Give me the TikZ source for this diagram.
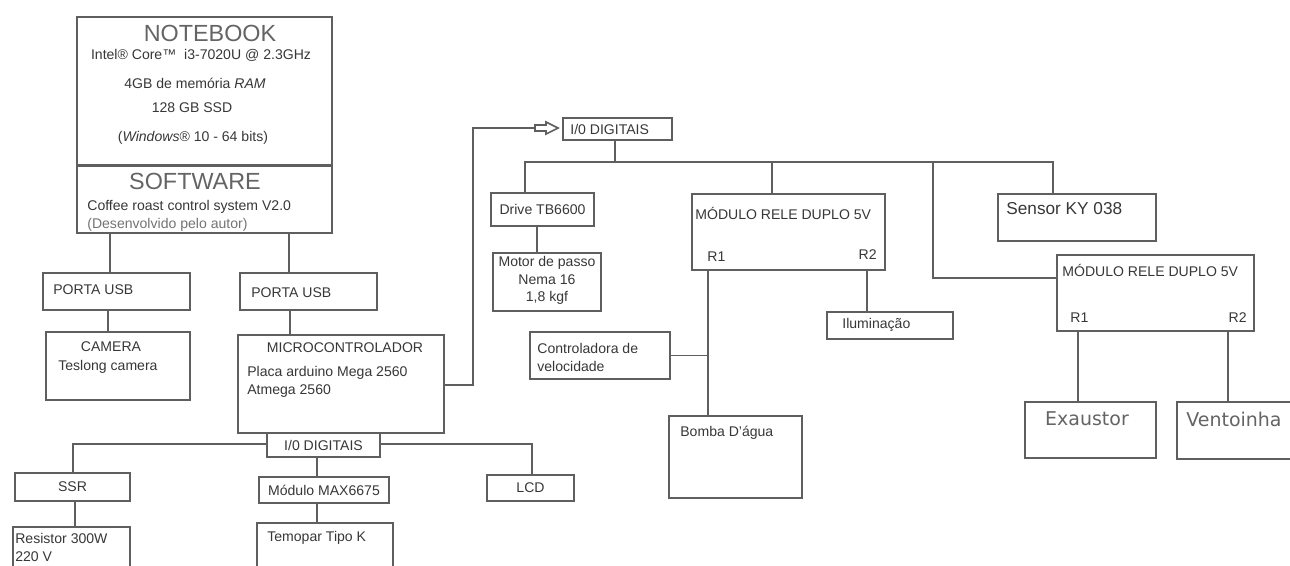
\documentclass[tikz,border=0pt]{standalone}
\usepackage{fontspec}
\setmainfont{Liberation Sans}
\newfontfamily\verdana{DejaVu Sans}
\usetikzlibrary{fit}
\definecolor{linegray}{RGB}{95,95,95}
\definecolor{textgray}{RGB}{55,55,55}
\definecolor{headgray}{RGB}{100,100,100}
\tikzset{
  box/.style={draw=linegray, line width=0.9pt, inner sep=0pt},
  wire/.style={draw=linegray, line width=0.9pt},
  txt/.style={text=textgray, inner sep=0pt, font=\fontsize{8}{9.6}\selectfont},
  lbl/.style={txt, anchor=west},
  head/.style={text=headgray, inner sep=0pt, font=\fontsize{13.3}{15}\selectfont},
  big/.style={text=headgray, inner sep=0pt, font=\verdana\fontsize{10.8}{12}\selectfont},
}
\begin{document}
\begin{tikzpicture}[x=0.02cm, y=-0.02cm]
  \useasboundingbox (0,0) rectangle (1290,565);
  \clip (0,0) rectangle (1290,565);

  % notebook and software
  \node[box, fit={(77,17) (332,165)}] (nb) {};
  \node[box, fit={(77,165) (332,233)}] (sw) {};
  \draw[wire, line width=1.5pt] (nb.south west) -- (nb.south east);
  \node[head] (nbH) at (210,33) {NOTEBOOK};
  \node[txt] (nb1) at (201,55) {Intel® Core™\ \ i3-7020U @ 2.3GHz};
  \node[txt] (nb2) at (195,83) {4GB de memória \textit{RAM}};
  \node[txt] (nb3) at (192,108) {128 GB SSD};
  \node[txt] (nb4) at (193,138) {(\textit{Windows}® 10 - 64 bits)};
  \node[head] (swH) at (195,181) {SOFTWARE};
  \node[lbl] (sw1) at (87,207) {Coffee roast control system V2.0};
  \node[lbl, text=textgray!70] (sw2) at (87,225) {(Desenvolvido pelo autor)};

  % left column
  \node[box, fit={(43,273) (190,310)}] (usbL) {};
  \node[lbl] (usbLt) at (53,290) {PORTA USB};
  \node[box, fit={(240,273) (377,310)}] (usbR) {};
  \node[lbl] (usbRt) at (251,293) {PORTA USB};
  \node[box, fit={(46,332) (190,400)}] (cam) {};
  \node[txt] (cam1) at (111,347) {CAMERA};
  \node[lbl] (cam2) at (58,367) {Teslong camera};
  \node[box, fit={(238,335) (444,433)}] (mcu) {};
  \node[txt] (mcu1) at (345,348) {MICROCONTROLADOR};
  \node[lbl] (mcu2) at (247,373) {Placa arduino Mega 2560};
  \node[lbl] (mcu3) at (247,391) {Atmega 2560};
  \node[box, fill=white, fit={(267,433) (380,457)}] (ioB) {};
  \node[txt] (ioBt) at (ioB.center) {I/0 DIGITAIS};
  \node[box, fit={(15,473) (130,501)}] (ssr) {};
  \node[txt] (ssrt) at (ssr.center) {SSR};
  \node[box, fit={(13,527) (130,590)}] (res) {};
  \node[lbl] (res1) at (15,538) {Resistor 300W};
  \node[lbl] (res2) at (15,557) {220 V};
  \node[box, fit={(259,477) (389,503)}] (max) {};
  \node[txt] (maxt) at (max.center) {Módulo MAX6675};
  \node[box, fit={(257,523) (393,590)}] (term) {};
  \node[lbl] (term1) at (267,538) {Temopar Tipo K};
  \node[box, fit={(487,475) (574,501)}] (lcd) {};
  \node[txt] (lcdt) at (lcd.center) {LCD};

  % right part
  \node[box, fit={(563,118) (672,140)}] (ioT) {};
  \node[lbl] (ioTt) at (570,129) {I/0 DIGITAIS};
  \node[box, fit={(491,193) (594,226)}] (drive) {};
  \node[txt] (drivet) at (drive.center) {Drive TB6600};
  \node[box, fit={(493,253) (601,311)}] (motor) {};
  \node[txt, align=center, font=\fontsize{8}{9.8}\selectfont] (motort)
    at ([yshift=0.03cm]motor.center) {Motor de passo\\Nema 16\\1,8 kgf};
  \node[box, fit={(692,194) (885,270)}] (rel1) {};
  \node[lbl] (rel1t) at (695,213) {MÓDULO RELE DUPLO 5V};
  \node[lbl] (rel1a) at (707,257) {R1};
  \node[txt, anchor=east] (rel1b) at (877,255) {R2};
  \node[box, fit={(827,312) (953,339)}] (ilum) {};
  \node[lbl] (ilumt) at (842,325) {Iluminação};
  \node[box, fit={(530,332) (670,379)}] (ctrl) {};
  \node[lbl] (ctrl1) at (537,348) {Controladora de};
  \node[lbl] (ctrl2) at (537,366) {velocidade};
  \node[box, fit={(669,416) (802,498)}] (bomba) {};
  \node[lbl] (bombat) at (680,433) {Bomba D'água};
  \node[box, fit={(998,194) (1156,241)}] (sensor) {};
  \node[lbl, font=\fontsize{9.8}{11}\selectfont] (sensort) at (1006,209) {Sensor KY 038};
  \node[box, fit={(1057,255) (1254,331)}] (rel2) {};
  \node[lbl] (rel2t) at (1062,270) {MÓDULO RELE DUPLO 5V};
  \node[lbl] (rel2a) at (1070,318) {R1};
  \node[txt, anchor=east] (rel2b) at (1247,318) {R2};
  \node[box, fit={(1025,402) (1156,458)}] (exa) {};
  \node[big] (exat) at (1087,419) {Exaustor};
  \node[box, fit={(1177,402) (1320,459)}] (vent) {};
  \node[big, anchor=west] (ventt) at (1186,419) {Ventoinha};

  % connectors
  \draw[wire] (sw.south -| 110,0) -- (usbL.north -| 110,0);
  \draw[wire] (sw.south -| 289,0) -- (usbR.north -| 289,0);
  \draw[wire] (usbL.south -| 108,0) -- (cam.north -| 108,0);
  \draw[wire] (usbR.south -| 290,0) -- (mcu.north -| 290,0);
  \coordinate (tail) at (535,128);
  \draw[wire] (mcu.east |- 0,385) -- (473,385) |- (tail);
  \draw[wire, fill=white] (tail) ++(0,-3) -- ++(11,0) -- ++(0,-3) -- ++(12,6)
    -- ++(-12,6) -- ++(0,-3) -- ++(-11,0) -- cycle;
  \coordinate (busL) at (525,162);
  \coordinate (busR) at (1053,162);
  \draw[wire] (drive.north -| busL) -- (busL) -- (busR) -- (sensor.north -| busR);
  \draw[wire] (ioT.south -| 615,0) -- (615,162);
  \draw[wire] (772,162) -- (rel1.north -| 772,0);
  \draw[wire] (933,162) |- (rel2.west |- 0,278);
  \draw[wire] (drive.south -| 537,0) -- (motor.north -| 537,0);
  \draw[wire] (rel1.south -| 708,0) -- (bomba.north -| 708,0);
  \draw[wire] (ctrl.east) -- (ctrl.east -| 708,0);
  \draw[wire] (rel1.south -| 867,0) -- (ilum.north -| 867,0);
  \draw[wire] (rel2.south -| 1078,0) -- (exa.north -| 1078,0);
  \draw[wire] (rel2.south -| 1228,0) -- (vent.north -| 1228,0);
  \draw[wire] (ioB.west |- 0,444) -| (ssr.north -| 73,0);
  \draw[wire] (ioB.east |- 0,444) -| (lcd.north -| 532,0);
  \draw[wire] (ioB.south -| 317,0) -- (max.north -| 317,0);
  \draw[wire] (ssr.south -| 75,0) -- (res.north -| 75,0);
  \draw[wire] (max.south -| 317,0) -- (term.north -| 317,0);
\end{tikzpicture}
\end{document}
